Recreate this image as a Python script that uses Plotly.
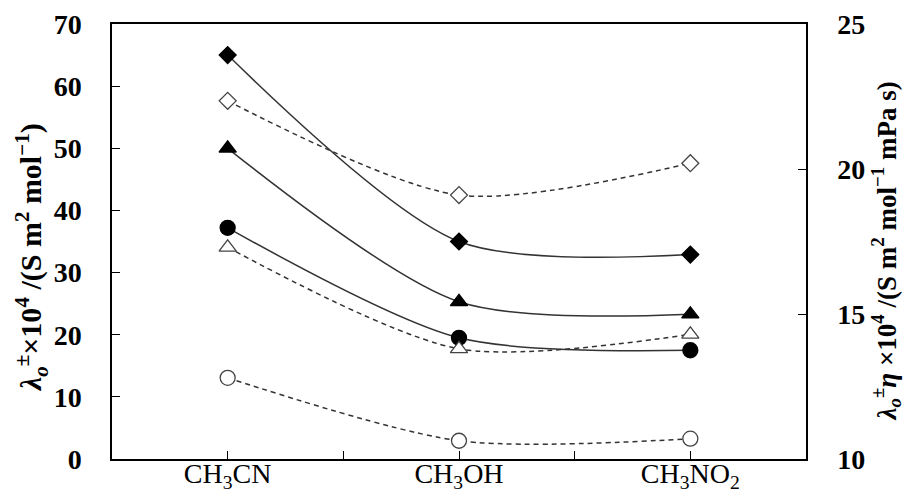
import plotly.graph_objects as go

categories = ["CH<sub>3</sub>CN", "CH<sub>3</sub>OH", "CH<sub>3</sub>NO<sub>2</sub>"]

# left axis (solid lines, filled markers): λo± ×10^4
lam_diamond = [65.0, 35.0, 32.9]
lam_triangle = [50.0, 25.3, 23.3]
lam_circle = [37.2, 19.5, 17.5]

# right axis (dashed lines, open markers): λo±η ×10^4
walden_diamond = [22.35, 19.1, 20.2]
walden_triangle = [17.3, 13.8, 14.3]
walden_circle = [12.8, 10.63, 10.7]

x_pos = list(range(len(categories)))
tick_vals = [0, 0.5, 1, 1.5, 2]
tick_text = [categories[0], "", categories[1], "", categories[2]]

FONT = "Liberation Serif"
LINE = "#333333"

fig = go.Figure()

def add(vals, symbol, filled, axis):
    fig.add_trace(go.Scatter(
        x=x_pos, y=vals, mode="lines+markers", yaxis=axis,
        line=dict(shape="spline", smoothing=0.8, color=LINE, width=1.5,
                  dash="solid" if filled else "5px,4px"),
        marker=dict(symbol=symbol, size=13 if "diamond" in symbol else 15,
                    color="black" if filled else "white",
                    line=dict(color="black" if filled else "#444", width=1.3)),
        showlegend=False, cliponaxis=False,
    ))

add(walden_diamond, "diamond", False, "y2")
add(walden_triangle, "triangle-up", False, "y2")
add(walden_circle, "circle", False, "y2")
add(lam_diamond, "diamond", True, "y")
add(lam_triangle, "triangle-up", True, "y")
add(lam_circle, "circle", True, "y")

# page body has an 8px margin, so the figure is sized to fit the window
fig.update_layout(
    width=903, height=489,
    margin=dict(l=104, r=105, t=16, b=38),
    paper_bgcolor="white", plot_bgcolor="white",
    font=dict(family=FONT, color="black"),
    xaxis=dict(range=[-0.5, 2.5], tickvals=tick_vals, ticktext=tick_text,
               ticks="inside", ticklen=8, tickcolor="black", tickwidth=1.2,
               showline=True, linecolor="black", linewidth=1.5, mirror=True,
               showgrid=False, zeroline=False, automargin=False,
               ticklabelstandoff=-11,
               tickfont=dict(family=FONT, size=28, color="black")),
    yaxis=dict(range=[0, 70], dtick=10, ticks="inside", ticklen=8,
               tickcolor="black", tickwidth=1.2, showline=True,
               linecolor="black", linewidth=1.5, showgrid=False,
               zeroline=False, ticklabelstandoff=23, automargin=False,
               tickfont=dict(family=FONT, size=28, color="black", weight="bold")),
    yaxis2=dict(range=[10, 25], dtick=5, overlaying="y", side="right",
                ticks="inside", ticklen=8, tickcolor="black", tickwidth=1.2,
                showline=True, linecolor="black", linewidth=1.5,
                showgrid=False, zeroline=False, ticklabelstandoff=24,
                automargin=False,
                tickfont=dict(family=FONT, size=28, color="black", weight="bold")),
)

fig.add_annotation(
    text="<b><i>λ<sub>o</sub></i><sup>±</sup>×10<sup>4</sup> /(S m<sup>2</sup> mol<sup>−1</sup>)</b>",
    xref="paper", yref="paper", x=-0.116, y=0.463, xanchor="center", yanchor="middle",
    textangle=-90, showarrow=False, font=dict(family=FONT, size=30, color="black"))

fig.add_annotation(
    text="<b><i>λ<sub>o</sub></i><sup>±</sup><i>η</i> ×10<sup>4</sup> /(S m<sup>2</sup> mol<sup>−1</sup> mPa s)</b>",
    xref="paper", yref="paper", x=1.115, y=0.479, xanchor="center", yanchor="middle",
    textangle=-90, showarrow=False, font=dict(family=FONT, size=27, color="black"))

fig.write_html("out.html")
